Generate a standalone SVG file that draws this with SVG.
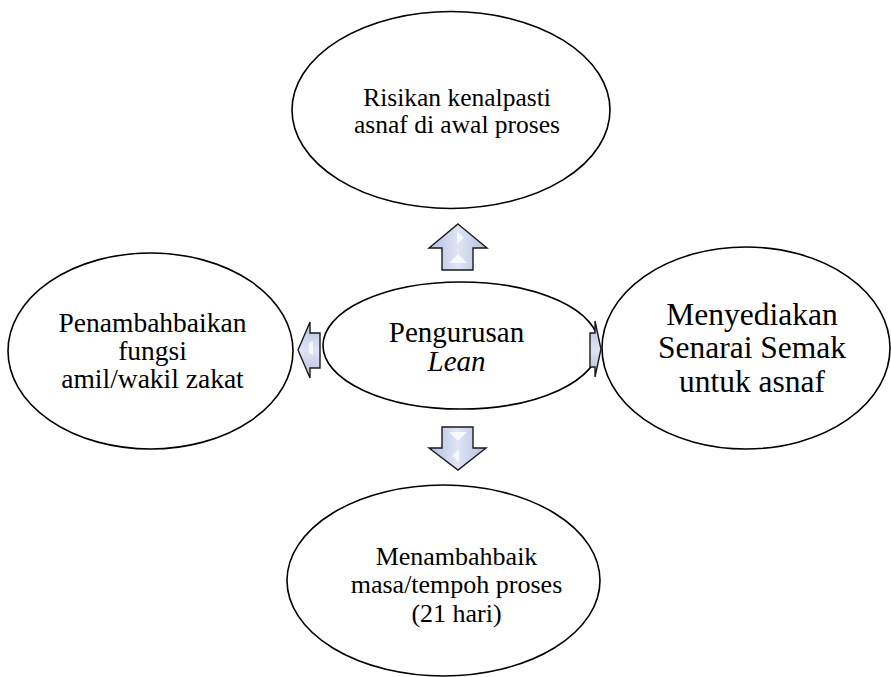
<svg xmlns="http://www.w3.org/2000/svg" width="891" height="677" viewBox="0 0 891 677">
  <defs>
    <linearGradient id="arrowFillV" x1="0" y1="0" x2="1" y2="0">
      <stop offset="0" stop-color="#b3bfe0"/>
      <stop offset="0.5" stop-color="#dfe5f5"/>
      <stop offset="1" stop-color="#b3bfe0"/>
    </linearGradient>
    <linearGradient id="arrowFillH" x1="0" y1="0" x2="0" y2="1">
      <stop offset="0" stop-color="#b3bfe0"/>
      <stop offset="0.5" stop-color="#dfe5f5"/>
      <stop offset="1" stop-color="#b3bfe0"/>
    </linearGradient>
    <style>
      .node { fill: #ffffff; stroke: #000000; stroke-width: 1.6; }
      .label { font-family: "Liberation Serif", "Times New Roman", serif; fill: #000000; text-anchor: middle; }
      .arrow { stroke: #1a1a1a; stroke-width: 1.4; stroke-linejoin: miter; }
      .shine { fill: #ffffff; opacity: 0.75; }
    </style>
  </defs>

  <!-- outer topics -->
  <g id="node-top">
    <ellipse class="node" cx="451" cy="110" rx="159" ry="98.5"/>
    <text class="label" font-size="25.5" x="457" y="106">Risikan kenalpasti</text>
    <text class="label" font-size="25.5" x="457" y="133">asnaf di awal proses</text>
  </g>

  <g id="node-left">
    <ellipse class="node" cx="150.5" cy="351" rx="142.5" ry="98"/>
    <text class="label" font-size="27.5" x="152.5" y="332">Penambahbaikan</text>
    <text class="label" font-size="27.5" x="152.5" y="360">fungsi</text>
    <text class="label" font-size="27.5" x="152.5" y="388">amil/wakil zakat</text>
  </g>

  <g id="node-right">
    <ellipse class="node" cx="746" cy="348" rx="144" ry="101"/>
    <text class="label" font-size="31.5" x="752" y="325">Menyediakan</text>
    <text class="label" font-size="31.5" x="752" y="358">Senarai Semak</text>
    <text class="label" font-size="31.5" x="752" y="392">untuk asnaf</text>
  </g>

  <g id="node-bottom">
    <ellipse class="node" cx="443.5" cy="580.5" rx="156.5" ry="95.5"/>
    <text class="label" font-size="26" x="456.5" y="565">Menambahbaik</text>
    <text class="label" font-size="26" x="456.5" y="593">masa/tempoh proses</text>
    <text class="label" font-size="26" x="456.5" y="622">(21 hari)</text>
  </g>

  <!-- central topic -->
  <g id="node-center">
    <ellipse class="node" cx="461" cy="345.5" rx="138" ry="63.5"/>
    <text class="label" font-size="29" x="456.5" y="342">Pengurusan</text>
    <text class="label" font-size="29" x="456.5" y="371" font-style="italic">Lean</text>
  </g>

  <!-- block arrows from the centre -->
  <g id="connectors">
    <g id="arrow-up">
      <path class="arrow" fill="url(#arrowFillV)" d="M458,224 L487,248 L473,248 L473,270 L442,270 L442,248 L429,248 Z"/>
      <path class="shine" d="M457,231 L464,238 L457,244 Z"/>
      <path class="shine" d="M458,254 L467,263 L449,263 Z"/>
    </g>
    <g id="arrow-down">
      <path class="arrow" fill="url(#arrowFillV)" d="M442,427 L473,427 L473,448 L486,448 L458,470 L429,448 L442,448 Z"/>
      <path class="shine" d="M449,432 L467,432 L458,441 Z"/>
      <path class="shine" d="M459,449 L459,462 L452,456 Z"/>
    </g>
    <g id="arrow-left">
      <path class="arrow" fill="url(#arrowFillH)" d="M298,350 L310,322 L310,333 L320,333 L320,368 L310,368 L310,378 Z"/>
      <path class="shine" d="M309,343 L313,341 L313,355 L309,353 Z"/>
    </g>
    <g id="arrow-right">
      <path class="arrow" fill="url(#arrowFillH)" d="M590,333 L595,333 L595,321 L601,349 L595,377 L595,367 L590,367 Z"/>
    </g>
  </g>
</svg>
